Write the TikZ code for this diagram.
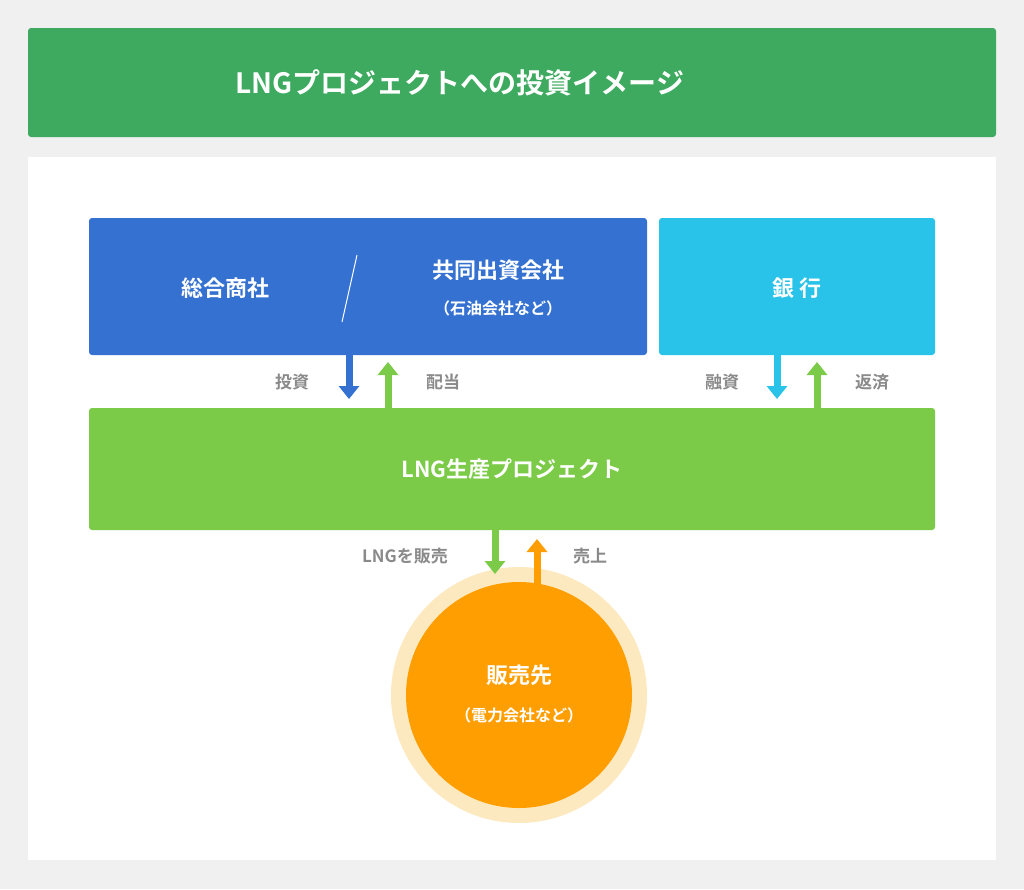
\documentclass[tikz,border=0pt]{standalone}
\usepackage{fontspec}
\setmainfont{Noto Sans CJK JP}[BoldFont={Noto Sans CJK JP Bold}]
\usetikzlibrary{arrows.meta}
\definecolor{bg}{HTML}{F0F0F0}
\definecolor{hdr}{HTML}{3DAA5F}
\definecolor{blu}{HTML}{3571D1}
\definecolor{cya}{HTML}{29C2E8}
\definecolor{grn}{HTML}{7CCB48}
\definecolor{org}{HTML}{FF9E00}
\definecolor{orgl}{HTML}{FDE9C0}
\definecolor{gry}{HTML}{8A8A8A}
\tikzset{
 box/.style={rounded corners=3pt,inner sep=0},
 wt/.style={text=white,font=\bfseries\fontsize{22}{26}\selectfont},
 wts/.style={text=white,font=\bfseries\fontsize{16}{20}\selectfont},
 lbl/.style={text=gry,font=\bfseries\fontsize{17}{20}\selectfont},
 arr/.style={line width=7pt,-{Triangle[width=20pt,length=13pt]}},
}
\begin{document}
\begin{tikzpicture}[x=1pt,y=-1pt]
\fill[bg] (0,0) rectangle (1024,889);
\useasboundingbox (0,0) rectangle (1024,889);
\fill[hdr,rounded corners=3pt] (28,28) rectangle (996,137);
\node[text=white,font=\bfseries\fontsize{28}{32}\selectfont] (title) at (460,83) {LNGプロジェクトへの投資イメージ};
\fill[white] (28,157) rectangle (996,860);
\fill[blu,rounded corners=3pt] (89,218) rectangle (647,355);
\coordinate (blue) at (368,355);
\node[wt] (sogo) at (225,288) {総合商社};
\draw[white,line width=1pt] (342,322) -- (357,255);
\node[wt] (kyodo) at (498,270) {共同出資会社};
\node[wts] (sekiyu) at (498,308) {（石油会社など）};
\fill[cya,rounded corners=3pt] (659,218) rectangle (935,355);
\node[wt] (ginko) at (797,288) {銀 行};
\fill[grn,rounded corners=3pt] (89,408) rectangle (935,530);
\node[wt] (lng) at (512,469) {LNG生産プロジェクト};
\coordinate (a1s) at (349,355); \coordinate (a1e) at (349,399);
\coordinate (a2s) at (388,408); \coordinate (a2e) at (388,362);
\coordinate (a3s) at (777,355); \coordinate (a3e) at (777,399);
\coordinate (a4s) at (817,408); \coordinate (a4e) at (817,362);
\coordinate (a5s) at (495,530); \coordinate (a5e) at (495,574);
\coordinate (a6s) at (537,600); \coordinate (a6e) at (537,539);
\fill[orgl] (519,695) circle (128);
\draw[arr,blu] (a1s) -- (a1e);
\draw[arr,grn] (a2s) -- (a2e);
\draw[arr,cya] (a3s) -- (a3e);
\draw[arr,grn] (a4s) -- (a4e);
\draw[arr,grn] (a5s) -- (a5e);
\fill[org] (519,695) circle (113);
\draw[arr,org] (a6s) -- (a6e);
\node[lbl] (l1) at (292,382) {投資};
\node[lbl] (l2) at (443,382) {配当};
\node[lbl] (l3) at (722,382) {融資};
\node[lbl] (l4) at (872,382) {返済};
\node[lbl] (l5) at (405,556) {LNGを販売};
\node[lbl] (l6) at (590,556) {売上};
\node[wt] (hanbai) at (519,675) {販売先};
\node[wts] (denryoku) at (519,715) {（電力会社など）};
\end{tikzpicture}
\end{document}
